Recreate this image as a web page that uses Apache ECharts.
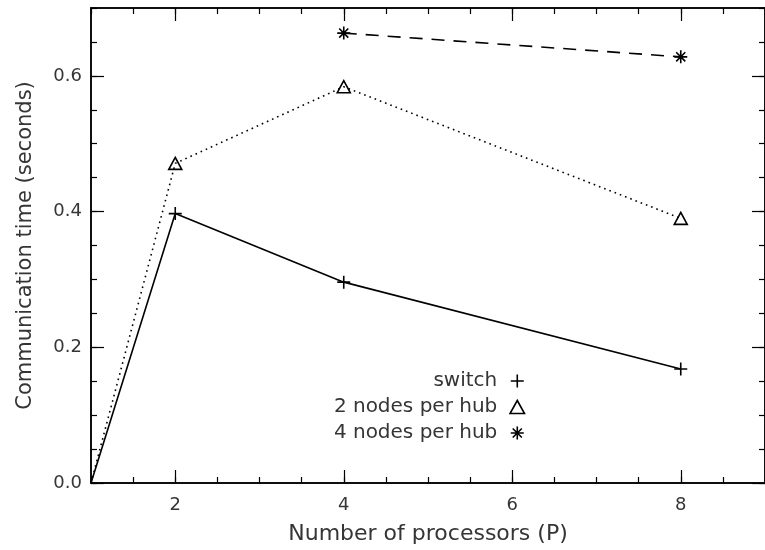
<!DOCTYPE html>
<html>
<head>
<meta charset="utf-8">
<script src="https://cdn.jsdelivr.net/npm/echarts@6/dist/echarts.min.js"></script>
<style>html,body{margin:0;padding:0;background:#fff;}#c{width:765px;height:550px;}</style>
</head>
<body>
<div id="c"></div>
<script>
// ---- data ----
var seriesNames = ['switch', '2 nodes per hub', '4 nodes per hub'];
var switchP = [1, 2, 4, 8];
var switchT = [0.0, 0.397, 0.296, 0.168];
var hub2P = [1, 2, 4, 8];
var hub2T = [0.0, 0.471, 0.584, 0.390];
var hub4P = [4, 8];
var hub4T = [0.663, 0.628];
var xMajorTicks = [2, 4, 6, 8];
var yMajorTicks = [0.0, 0.2, 0.4, 0.6];
var xTitle = 'Number of processors (P)';
var yTitle = 'Communication time (seconds)';

function pairs(xs, ys) {
  return xs.map(function (x, i) {
    var d = { value: [x, ys[i]] };
    if (ys[i] === 0) d.symbol = 'none';
    return d;
  });
}

var FONT = 'DejaVu Sans';
var TXT = '#353535';
var PLUS = 'path://M0,5L10,5M5,0L5,10';
var TRI = 'path://M5,0L10,9L0,9Z';
var STAR = 'path://M5,0L5,10M0,5L10,5M1.5,1.5L8.5,8.5M8.5,1.5L1.5,8.5';
var symStyle = { color: 'none', borderColor: '#000', borderWidth: 1.6 };

var gridLeft = 91, gridTop = 8, gridW = 682, gridH = 477;

function xAx(pos, major) {
  var a = {
    type: 'value', min: 1, max: 9, position: pos, gridIndex: 0,
    axisLine: { show: true, onZero: false, lineStyle: { color: '#000', width: 1.5 } },
    splitLine: { show: false },
    axisTick: { show: true, inside: true, length: major ? 13 : 6, lineStyle: { color: '#000', width: 1.2 } },
    axisLabel: { show: false }
  };
  if (major) {
    a.axisTick.customValues = xMajorTicks;
    if (pos === 'bottom') {
      a.axisLabel = { show: true, customValues: xMajorTicks, fontFamily: FONT, fontSize: 18, color: TXT, margin: 13 };
      a.name = xTitle; a.nameLocation = 'middle'; a.nameGap = 40;
      a.nameTextStyle = { fontFamily: FONT, fontSize: 22, color: TXT };
    }
  } else {
    a.interval = 0.5;
  }
  return a;
}
function yAx(pos, major) {
  var a = {
    type: 'value', min: 0, max: 0.7, position: pos, gridIndex: 0,
    axisLine: { show: true, onZero: false, lineStyle: { color: '#000', width: 1.5 } },
    splitLine: { show: false },
    axisTick: { show: true, inside: true, length: major ? 13 : 6, lineStyle: { color: '#000', width: 1.2 } },
    axisLabel: { show: false }
  };
  if (major) {
    a.axisTick.customValues = yMajorTicks;
    if (pos === 'left') {
      a.axisLabel = { show: true, customValues: yMajorTicks, fontFamily: FONT, fontSize: 18, color: TXT, margin: 9,
        formatter: function (v) { return v.toFixed(1); } };
      a.name = yTitle; a.nameLocation = 'middle'; a.nameGap = 55;
      a.nameTextStyle = { fontFamily: FONT, fontSize: 21, color: TXT };
    }
  } else {
    a.interval = 0.05;
  }
  return a;
}

var chart = echarts.init(document.getElementById('c'), null, { renderer: 'canvas' });
chart.setOption({
  animation: false,
  backgroundColor: '#fff',
  grid: { left: gridLeft, top: gridTop, width: gridW, height: gridH, containLabel: false },
  xAxis: [xAx('bottom', true), xAx('bottom', false), xAx('top', true), xAx('top', false)],
  yAxis: [yAx('left', true), yAx('left', false), yAx('right', true), yAx('right', false)],
  legend: {
    orient: 'vertical', align: 'right', right: 233, top: 366,
    itemWidth: 30, itemHeight: 13, itemGap: 6, symbolKeepAspect: true,
    textStyle: { fontFamily: FONT, fontSize: 20, color: TXT },
    data: [
      { name: seriesNames[0], icon: PLUS, itemStyle: symStyle },
      { name: seriesNames[1], icon: TRI, itemStyle: symStyle },
      { name: seriesNames[2], icon: STAR, itemStyle: symStyle }
    ]
  },
  series: [
    { name: seriesNames[0], type: 'line', data: pairs(switchP, switchT), symbol: PLUS, symbolSize: 13,
      itemStyle: symStyle, lineStyle: { color: '#000', width: 1.6, type: 'solid' }, clip: false },
    { name: seriesNames[1], type: 'line', data: pairs(hub2P, hub2T), symbol: TRI, symbolSize: [13, 12],
      itemStyle: symStyle, lineStyle: { color: '#000', width: 1.6, type: [1.6, 4] }, clip: false },
    { name: seriesNames[2], type: 'line', data: pairs(hub4P, hub4T), symbol: STAR, symbolSize: 13,
      itemStyle: symStyle, lineStyle: { color: '#000', width: 1.6, type: [13, 9] }, clip: false }
  ]
});
</script>
</body>
</html>
